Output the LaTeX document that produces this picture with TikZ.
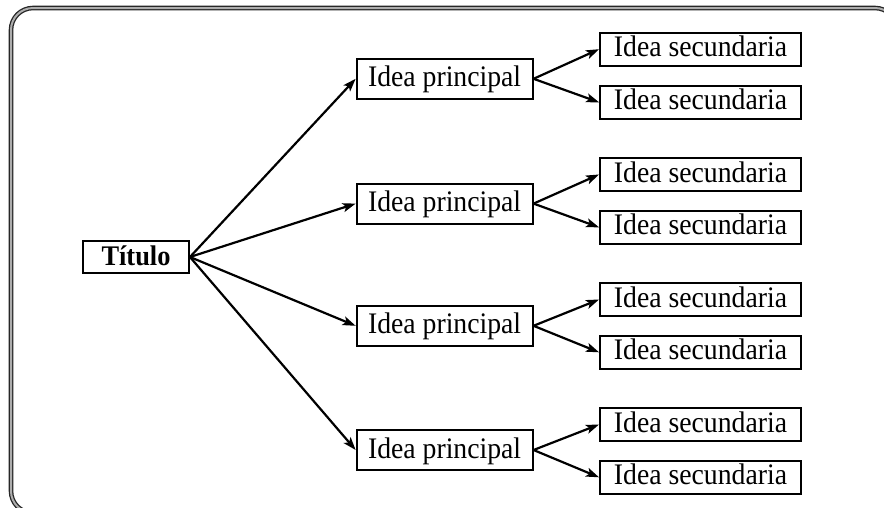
\documentclass[tikz,border=0pt]{standalone}
\usepackage{fontspec}
\setmainfont{Liberation Serif}
\newfontfamily\boxfont{Liberation Serif}[FakeStretch=0.93]
\usetikzlibrary{arrows.meta}
\begin{document}
\begin{tikzpicture}[x=1pt,y=-1pt,
  boxa/.style={draw, line width=1.9pt, inner sep=0pt, fill=white},
  prim/.style={boxa, minimum width=176pt, minimum height=40pt, text height=23pt, text depth=7pt, font=\boxfont\fontsize{29.8}{32}\selectfont},
  sec/.style={boxa, minimum width=201pt, minimum height=33pt, text height=22pt, text depth=7pt, font=\boxfont\fontsize{29.8}{32}\selectfont},
  tit/.style={boxa, minimum width=106pt, minimum height=32pt, text height=22.5pt, text depth=5.5pt, font=\boxfont\bfseries\fontsize{28.4}{32}\selectfont},
  conn/.style={line width=2.2pt, -{Stealth[length=13pt,width=9pt,inset=3pt]}},
  frameout/.style={line width=4.6pt, black!85, rounded corners=22pt},
  framein/.style={line width=2pt, black!32, rounded corners=22pt}]
\useasboundingbox (0,0) rectangle (884,507);
\clip (0,0) rectangle (884,507);
\fill[white] (0,0) rectangle (884,507);
\draw[frameout] (11,8) rectangle (897,513);
\draw[framein] (11,8) rectangle (897,513);

\node[tit] (t) at (136,257) {Título};

\node[prim] (p1) at (444.6,78.8) {Idea principal};
\node[prim] (p2) at (444.6,203.6) {Idea principal};
\node[prim] (p3) at (444.6,325.8) {Idea principal};
\node[prim] (p4) at (444.6,450) {Idea principal};

\node[sec] (s1a) at (700.5,49.2) {Idea secundaria};
\node[sec] (s1b) at (700.5,102.3) {Idea secundaria};
\node[sec] (s2a) at (700.5,174.5) {Idea secundaria};
\node[sec] (s2b) at (700.5,227.3) {Idea secundaria};
\node[sec] (s3a) at (700.5,299.5) {Idea secundaria};
\node[sec] (s3b) at (700.5,352.3) {Idea secundaria};
\node[sec] (s4a) at (700.5,424.5) {Idea secundaria};
\node[sec] (s4b) at (700.5,477.3) {Idea secundaria};

\foreach \p in {p1,p2,p3,p4}
  \draw[conn] (t.east) -- (\p.west);
\foreach \i in {1,2,3,4}{
  \draw[conn] (p\i.east) -- (s\i a.west);
  \draw[conn] (p\i.east) -- (s\i b.west);
}
\end{tikzpicture}
\end{document}
